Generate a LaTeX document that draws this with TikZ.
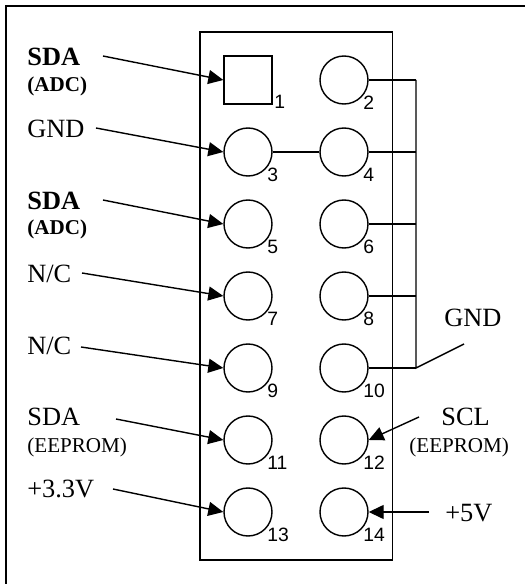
\documentclass[tikz,border=0pt]{standalone}
\usepackage{fontspec}
\setmainfont{Liberation Serif}
\newfontfamily\pinfont{Liberation Sans}
\usetikzlibrary{arrows.meta}
\tikzset{
    pin/.style={draw=black, circle, thick, minimum size=0.96cm, inner sep=0pt},
    pinsq/.style={draw=black, thick, minimum size=0.96cm, inner sep=0pt},
    pinnum/.style={inner sep=0pt, anchor=west, font=\pinfont\fontsize{11}{12}\selectfont},
    sig/.style={inner sep=0pt, anchor=base west, font=\fontsize{15}{16}\selectfont},
    sub/.style={inner sep=0pt, anchor=base west, font=\fontsize{12}{13}\selectfont},
    feed/.style={black, thick, -{Triangle[length=0.3cm,width=0.28cm]}},
}
\begin{document}
\begin{tikzpicture}
    \useasboundingbox (0,0) rectangle (10.5,11.68);
    \draw [black, line width=1.1pt] (0.12,-0.1) -- (0.12,11.56) -- (10.6,11.56);
    \draw [black, thick] (4,11.04) rectangle (7.85,0.48);

    % pins
    \node[pinsq] (p1) at (4.96,10.08) {};
    \node[pin] (p2) at (6.88,10.08) {};
    \foreach \i/\y in {3/8.64,5/7.2,7/5.76,9/4.32,11/2.88,13/1.44} {
        \node[pin] (p\i) at (4.96,\y) {};
    }
    \foreach \i/\y in {4/8.64,6/7.2,8/5.76,10/4.32,12/2.88,14/1.44} {
        \node[pin] (p\i) at (6.88,\y) {};
    }
    \node[pinnum] (n1) at (5.48,9.64) {1};
    \foreach \i in {2,...,14} {
        \node[pinnum] (n\i) at ([xshift=0.38cm,yshift=-0.46cm]p\i.center) {\i};
    }

    % ground bus
    \coordinate (bus2) at (8.32,10.08);
    \coordinate (bus4) at (8.32,8.64);
    \coordinate (bus6) at (8.32,7.2);
    \coordinate (bus8) at (8.32,5.76);
    \coordinate (bus10) at (8.32,4.32);
    \coordinate (gndend) at (9.28,4.8);
    \draw [black, thick] (p3) -- (p4);
    \foreach \i in {2,4,6,8,10} {
        \draw [black, thick] (p\i) -- (bus\i);
    }
    \draw [black, thick] (bus2) -- (bus10) -- (gndend);

    % labels
    \node[sig] (l1) at (0.54,10.36) {\textbf{SDA}};
    \node[sub] (l1b) at (0.54,9.84) {\textbf{(ADC)}};
    \node[sig] (l3) at (0.54,8.92) {GND};
    \node[sig] (l5) at (0.54,7.48) {\textbf{SDA}};
    \node[sub] (l5b) at (0.54,6.98) {\textbf{(ADC)}};
    \node[sig] (l7) at (0.54,6.02) {N/C};
    \node[sig] (l9) at (0.54,4.6) {N/C};
    \node[sig] (l11) at (0.54,3.16) {SDA};
    \node[sub] (l11b) at (0.54,2.63) {(EEPROM)};
    \node[sig] (l13) at (0.54,1.72) {+3.3V};
    \node[sig] (l0) at (8.88,5.14) {GND};
    \node[sig] (l12) at (8.82,3.16) {SCL};
    \node[sub] (l12b) at (8.18,2.63) {(EEPROM)};
    \node[sig] (l14) at (8.9,1.25) {+5V};

    % arrows
    \coordinate (a1) at (2.06,10.56);
    \coordinate (a3) at (1.92,9.12);
    \coordinate (a5) at (2.06,7.68);
    \coordinate (a7) at (1.64,6.22);
    \coordinate (a9) at (1.62,4.74);
    \coordinate (a11) at (2.32,3.3);
    \coordinate (a13) at (2.26,1.9);
    \coordinate (a12) at (8.38,3.34);
    \coordinate (a14) at (8.58,1.44);
    \foreach \i in {1,3,5,7,9,11,13} {
        \draw [feed] (a\i) -- (p\i.west);
    }
    \foreach \i in {12,14} {
        \draw [feed] (a\i) -- (p\i.east);
    }
\end{tikzpicture}
\end{document}
